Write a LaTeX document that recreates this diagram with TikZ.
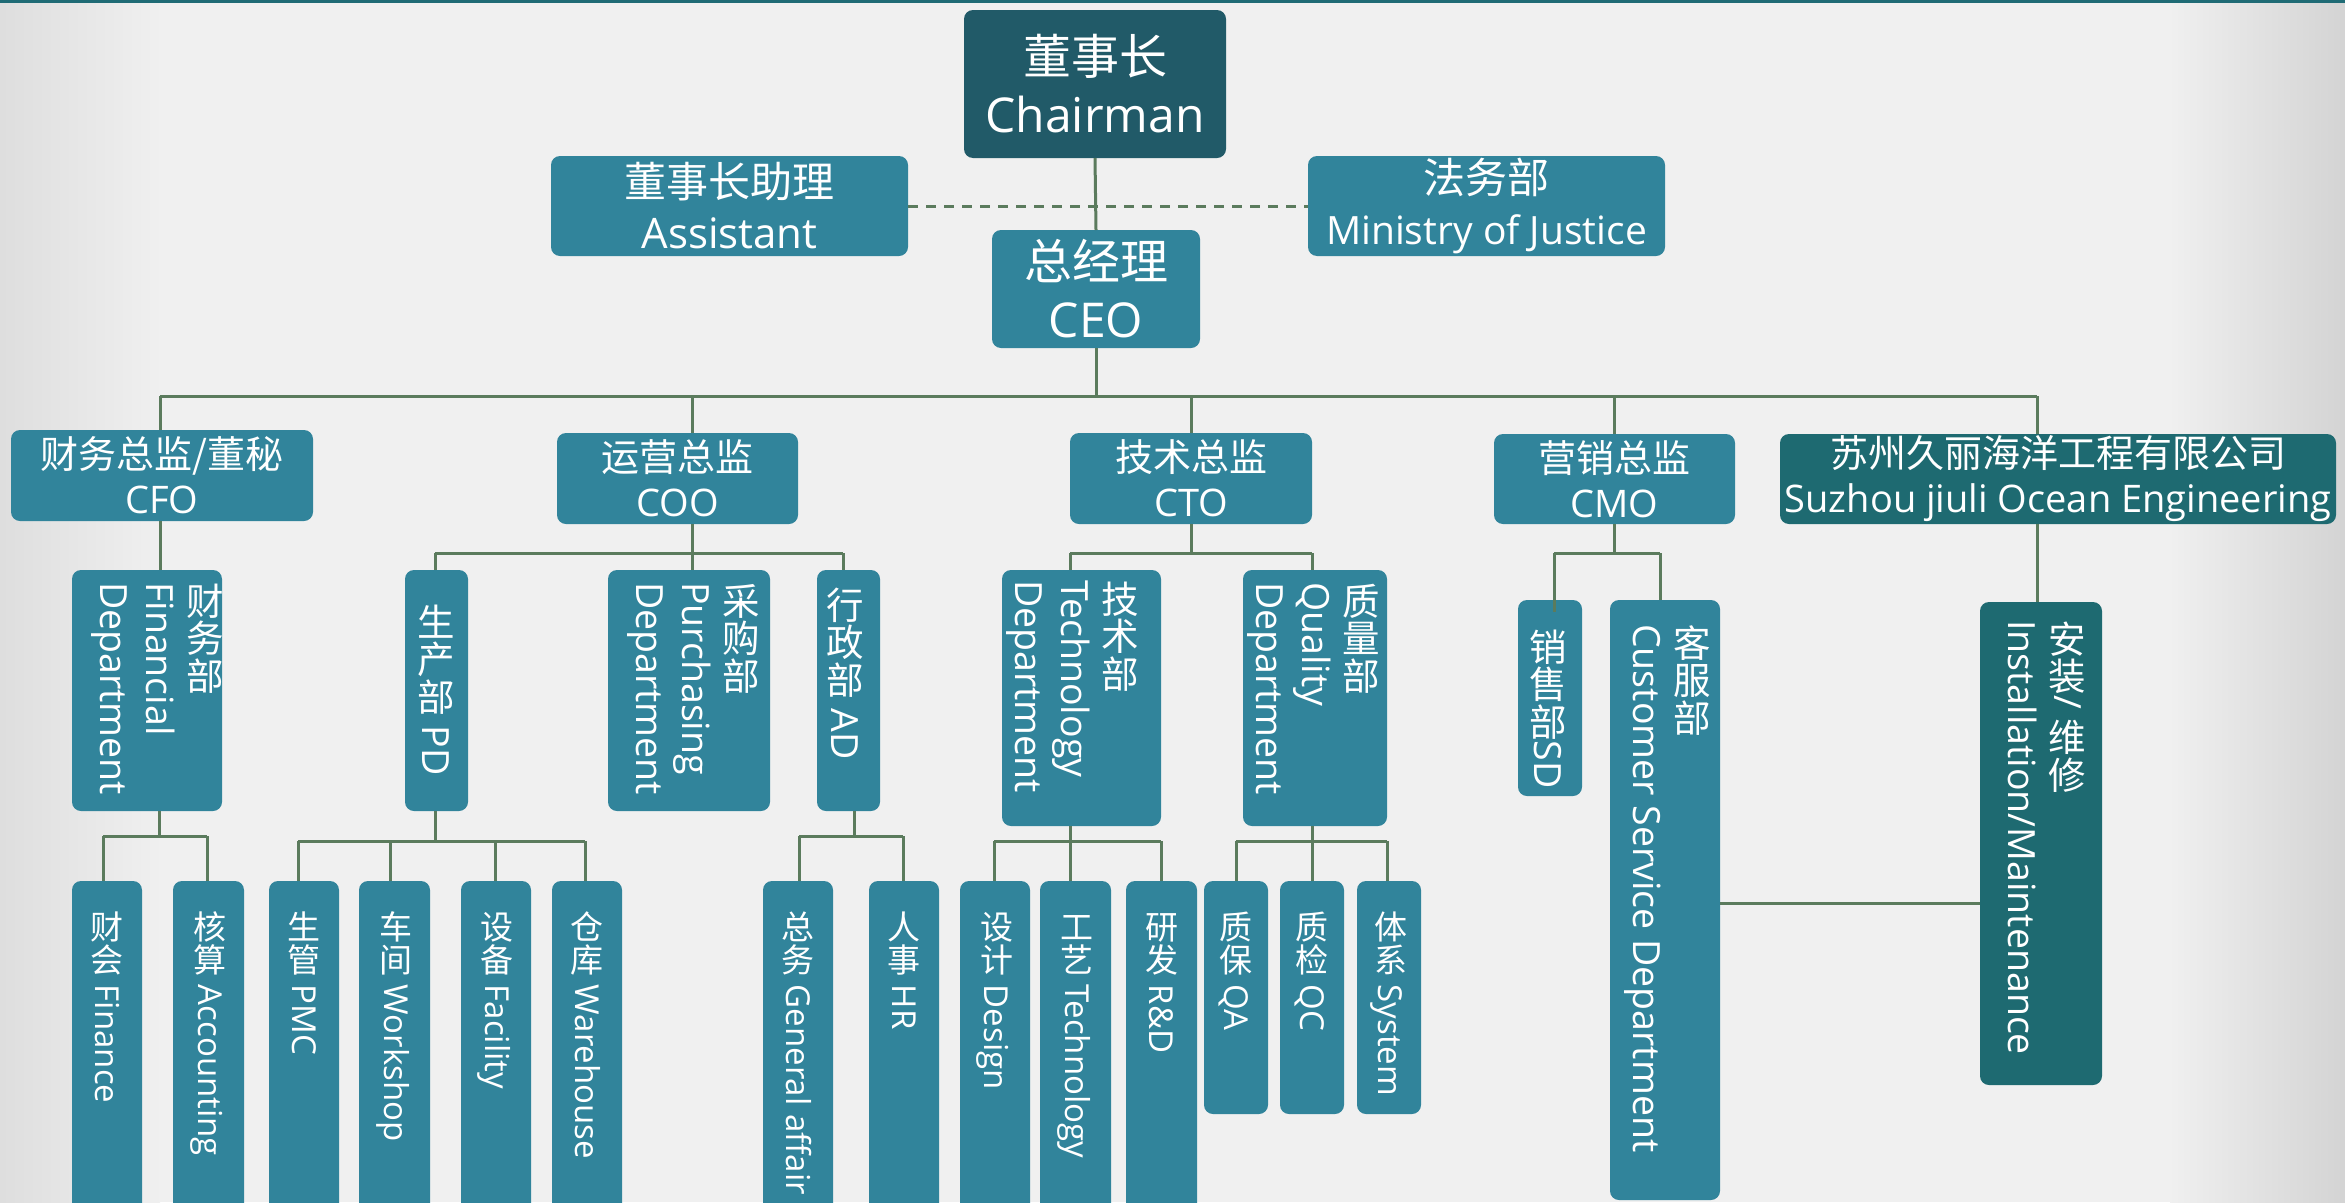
\documentclass[tikz,border=0pt]{standalone}
\usepackage{fontspec}
\usepackage{graphicx}
\usetikzlibrary{calc}
\setmainfont{Open Sans}
\newfontfamily\cjk{Noto Sans CJK SC}
\definecolor{boxc}{HTML}{31849B}
\definecolor{darkc}{HTML}{1E6A71}
\definecolor{chairc}{HTML}{215A68}
\definecolor{linec}{HTML}{5B7B5D}
\definecolor{topc}{HTML}{1F6B75}
\def\vcloop#1{\ifx\relax#1\else\raisebox{-0.15em}{\rotatebox{90}{\rule[-0.12em]{0pt}{1em}#1}}\expandafter\vcloop\fi}
\newcommand\vcj[1]{{\cjk\vcloop#1\relax}}
\newcommand\bx[6]{\node[boxs, fill=#6, minimum width={(#4-#2)*1pt}, minimum height={(#5-#3)*1pt}, anchor=north west] (#1) at (#2,#3) {};}
\tikzset{
  boxs/.style={rectangle, draw=none, rounded corners=9pt, inner sep=0pt, outer sep=0pt},
  htxt/.style={text=white, align=center, inner sep=0pt},
  vt/.style={rotate=-90, anchor=west, inner sep=0pt, align=left, text=white, font=\fontsize{37.5}{46}\selectfont},
  vb/.style={rotate=-90, anchor=west, inner sep=0pt, align=left, text=white, font=\fontsize{33}{40}\selectfont},
  conn/.style={draw=linec, line width=3pt},
  dconn/.style={draw=linec, line width=3pt, dash pattern=on 10pt off 8pt}
}
\begin{document}
\begin{tikzpicture}[x=1pt,y=-1pt]
\useasboundingbox (0,0) rectangle (2345,1202);
\clip (0,0) rectangle (2345,1202);
% background
\fill[color=black!6] (0,0) rectangle (2345,1202);
\shade[left color=black!13, right color=black!6] (0,0) rectangle (160,1202);
\shade[left color=black!6, right color=black!17] (2170,0) rectangle (2345,1202);
\fill[topc] (0,0) rectangle (2345,3);

% ---------- boxes ----------
\bx{chair}{964}{10}{1226}{158}{chairc}
\bx{assist}{551}{156}{908}{256}{boxc}
\bx{justice}{1308}{156}{1665}{256}{boxc}
\bx{ceo}{992}{230}{1200}{348}{boxc}
\bx{cfo}{11}{430}{313}{521}{boxc}
\bx{coo}{557}{433}{798}{524}{boxc}
\bx{cto}{1070}{433}{1312}{524}{boxc}
\bx{cmo}{1494}{434}{1735}{524}{boxc}
\bx{comp}{1780}{434}{2336}{524}{darkc}
\bx{fin}{72}{570}{222}{811}{boxc}
\bx{pd}{405}{570}{468}{811}{boxc}
\bx{pur}{608}{570}{770}{811}{boxc}
\bx{ad}{817}{570}{880}{811}{boxc}
\bx{tech}{1002}{570}{1161}{826}{boxc}
\bx{qual}{1243}{570}{1387}{826}{boxc}
\bx{sd}{1518}{600}{1582}{796}{boxc}
\bx{cs}{1610}{600}{1720}{1200}{boxc}
\bx{inst}{1980}{602}{2102}{1085}{darkc}
\bx{finance}{72}{881}{142}{1225}{boxc}
\bx{acct}{173}{881}{244}{1225}{boxc}
\bx{pmc}{269}{881}{339}{1225}{boxc}
\bx{work}{359}{881}{430}{1225}{boxc}
\bx{facil}{461}{881}{531}{1225}{boxc}
\bx{ware}{552}{881}{622}{1225}{boxc}
\bx{gen}{763}{881}{833}{1225}{boxc}
\bx{hr}{869}{881}{939}{1225}{boxc}
\bx{design}{960}{881}{1030}{1225}{boxc}
\bx{techn}{1040}{881}{1111}{1225}{boxc}
\bx{rd}{1126}{881}{1197}{1225}{boxc}
\bx{qa}{1204}{881}{1268}{1114}{boxc}
\bx{qc}{1280}{881}{1344}{1114}{boxc}
\bx{sys}{1357}{881}{1421}{1114}{boxc}

% ---------- connectors ----------
\coordinate (b0) at (0,396);
\coordinate (b1) at (0,553);
\draw[conn] (chair.south) -- (ceo.north);
\draw[dconn] (assist.east) -- (justice.west);
\draw[conn] (ceo.south) -- (ceo.south |- b0);
\coordinate (d1) at (160,396);
\coordinate (d2) at (692,396);
\coordinate (d3) at (1191,396);
\coordinate (d4) at (1614,396);
\coordinate (d5) at (2037,396);
\draw[conn] (d1) -- (d5);
\draw[conn] (d1) -- (d1 |- cfo.north);
\draw[conn] (d2) -- (d2 |- coo.north);
\draw[conn] (d3) -- (d3 |- cto.north);
\draw[conn] (d4) -- (d4 |- cmo.north);
\draw[conn] (d5) -- (d5 |- comp.north);
% CFO
\draw[conn] (d1 |- cfo.south) -- (d1 |- fin.north);
% COO
\coordinate (c1) at (435,553);
\coordinate (c3) at (843,553);
\draw[conn] (d2 |- coo.south) -- (d2 |- pur.north);
\draw[conn] (c1) -- (c3);
\draw[conn] (c1) -- (c1 |- pd.north);
\draw[conn] (c3) -- (c3 |- ad.north);
% CTO
\coordinate (t1) at (1070,553);
\coordinate (t2) at (1312,553);
\draw[conn] (d3 |- cto.south) -- (d3 |- b1);
\draw[conn] (t1) -- (t2);
\draw[conn] (t1) -- (t1 |- tech.north);
\draw[conn] (t2) -- (t2 |- qual.north);
% CMO
\coordinate (m1) at (1554,553);
\coordinate (m2) at (1660,553);
\draw[conn] (d4 |- cmo.south) -- (d4 |- b1);
\draw[conn] (m1) -- (m2);
\draw[conn] (m1) -- ($(m1 |- sd.north)+(0,12)$);
\draw[conn] (m2) -- (m2 |- cs.north);
% company
\draw[conn] (d5 |- comp.south) -- (d5 |- inst.north);
\coordinate (h0) at (0,903);
\draw[conn] (cs.east |- h0) -- (inst.west |- h0);
% Financial dept
\coordinate (f0) at (159,836);
\coordinate (f1) at (103,836);
\coordinate (f2) at (207,836);
\draw[conn] (f0 |- fin.south) -- (f0);
\draw[conn] (f1) -- (f2);
\draw[conn] (f1) -- (f1 |- finance.north);
\draw[conn] (f2) -- (f2 |- acct.north);
% PD
\coordinate (p0) at (435,841);
\coordinate (p1) at (298,841);
\coordinate (p2) at (390,841);
\coordinate (p3) at (495,841);
\coordinate (p4) at (585,841);
\draw[conn] (p0 |- pd.south) -- (p0);
\draw[conn] (p1) -- (p4);
\draw[conn] (p1) -- (p1 |- pmc.north);
\draw[conn] (p2) -- (p2 |- work.north);
\draw[conn] (p3) -- (p3 |- facil.north);
\draw[conn] (p4) -- (p4 |- ware.north);
% AD
\coordinate (a0) at (854,836);
\coordinate (a1) at (799,836);
\coordinate (a2) at (903,836);
\draw[conn] (a0 |- ad.south) -- (a0);
\draw[conn] (a1) -- (a2);
\draw[conn] (a1) -- (a1 |- gen.north);
\draw[conn] (a2) -- (a2 |- hr.north);
% Tech
\coordinate (e0) at (1070,841);
\coordinate (e1) at (994,841);
\coordinate (e2) at (1161,841);
\draw[conn] (e0 |- tech.south) -- (e0);
\draw[conn] (e1) -- (e2);
\draw[conn] (e1) -- (e1 |- design.north);
\draw[conn] (e0) -- (e0 |- techn.north);
\draw[conn] (e2) -- (e2 |- rd.north);
% Quality
\coordinate (q0) at (1312,841);
\coordinate (q1) at (1236,841);
\coordinate (q2) at (1387,841);
\draw[conn] (q0 |- qual.south) -- (q0);
\draw[conn] (q1) -- (q2);
\draw[conn] (q1) -- (q1 |- qa.north);
\draw[conn] (q0) -- (q0 |- qc.north);
\draw[conn] (q2) -- (q2 |- sys.north);

% ---------- texts ----------
\node[htxt, font=\fontsize{48}{58}\selectfont] (chair-t) at (chair) {{\cjk 董事长}\\Chairman};
\node[htxt, font=\fontsize{42}{51}\selectfont] (assist-t) at (assist) {{\cjk 董事长助理}\\Assistant};
\node[htxt, font=\fontsize{42}{51}\selectfont] (justice-t) at (justice) {{\cjk 法务部}\\{\fontsize{39}{51}\selectfont Ministry of Justice}};
\node[htxt, font=\fontsize{48}{58}\selectfont] (ceo-t) at (ceo) {{\cjk 总经理}\\CEO};
\node[htxt, font=\fontsize{38}{45}\selectfont] (cfo-t) at (cfo) {{\cjk 财务总监/董秘}\\CFO};
\node[htxt, font=\fontsize{38}{45}\selectfont] (coo-t) at (coo) {{\cjk 运营总监}\\COO};
\node[htxt, font=\fontsize{38}{45}\selectfont] (cto-t) at (cto) {{\cjk 技术总监}\\CTO};
\node[htxt, font=\fontsize{38}{45}\selectfont] (cmo-t) at (cmo) {{\cjk 营销总监}\\CMO};
\node[htxt, font=\fontsize{38}{45}\selectfont] (comp-t) at (comp) {{\cjk 苏州久丽海洋工程有限公司}\\Suzhou jiuli Ocean Engineering};

\coordinate (ty) at (0,910);
\node[vt] (fin-t) at (158,582) {\vcj{财务部}\\Financial\\Department};
\node[vt] (pd-t) at (436,603) {\vcj{生产部} PD};
\node[vt] (pur-t) at (694,582) {\vcj{采购部}\\Purchasing\\Department};
\node[vt] (ad-t) at (845,586) {\vcj{行政部} AD};
\node[vt] (tech-t) at (1073,580) {\vcj{技术部}\\Technology\\Department};
\node[vt] (qual-t) at (1314,582) {\vcj{质量部}\\Quality\\Department};
\node[vt] (sd-t) at (1548,628) {\vcj{销售部}SD};
\node[vt] (cs-t) at (1668,624) {\vcj{客服部}\\Customer Service Department};
\node[vt] (inst-t) at (2047,620) {\vcj{安装}/ \vcj{维修}\\Installation/Maintenance};

\node[vb] (finance-t) at (finance.north |- ty) {\vcj{财会} Finance};
\node[vb] (acct-t) at (acct.north |- ty) {\vcj{核算} Accounting};
\node[vb] (pmc-t) at (pmc.north |- ty) {\vcj{生管} PMC};
\node[vb] (work-t) at (work.north |- ty) {\vcj{车间} Workshop};
\node[vb] (facil-t) at (facil.north |- ty) {\vcj{设备} Facility};
\node[vb] (ware-t) at (ware.north |- ty) {\vcj{仓库} Warehouse};
\node[vb] (gen-t) at (gen.north |- ty) {\vcj{总务} General affair};
\node[vb] (hr-t) at (hr.north |- ty) {\vcj{人事} HR};
\node[vb] (design-t) at (design.north |- ty) {\vcj{设计} Design};
\node[vb] (techn-t) at (techn.north |- ty) {\vcj{工艺} Technology};
\node[vb] (rd-t) at (rd.north |- ty) {\vcj{研发} R\&D};
\node[vb] (qa-t) at (qa.north |- ty) {\vcj{质保} QA};
\node[vb] (qc-t) at (qc.north |- ty) {\vcj{质检} QC};
\node[vb] (sys-t) at (sys.north |- ty) {\vcj{体系} System};
\end{tikzpicture}
\end{document}
